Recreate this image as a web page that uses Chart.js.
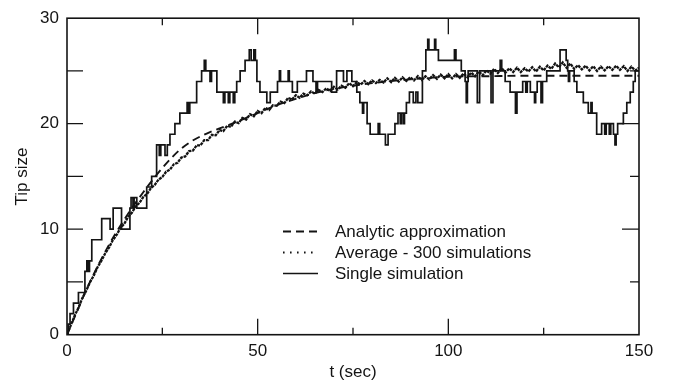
<!DOCTYPE html>
<html>
<head>
<meta charset="utf-8">
<script src="https://cdn.jsdelivr.net/npm/chart.js@4.4.1/dist/chart.umd.min.js"></script>
<style>
  html, body { margin: 0; padding: 0; background: #ffffff; }
  #wrap { width: 677px; height: 388px; }
</style>
</head>
<body>
<div id="wrap"><canvas id="c" width="677" height="388"></canvas></div>
<script>
// ---------- data ----------
const seriesLabels = ["Analytic approximation", "Average - 300 simulations", "Single simulation"];
const xTickLabels = [0, 50, 100, 150];
const yTickLabels = [0, 10, 20, 30];

// Analytic approximation (smooth)
const analyticT = [0, 2.5, 5, 7.5, 10, 12.5, 15, 17.5, 20, 22.5, 25, 27.5, 30, 32.5, 35, 37.5, 40, 45, 50, 55, 60, 65, 70, 75, 80, 90, 100, 110, 120, 130, 140, 150];
const analyticV = [0, 2.1, 4.2, 6.1, 7.85, 9.45, 10.9, 12.25, 13.5, 14.7, 15.8, 16.8, 17.65, 18.3, 18.8, 19.2, 19.55, 20.25, 21.0, 21.75, 22.35, 22.9, 23.3, 23.6, 23.85, 24.2, 24.45, 24.5, 24.55, 24.55, 24.55, 24.55];

// Average of 300 simulations, one value per second, t = 0..150
const averageV = [
  0, 0.9, 1.8, 2.55, 3.45, 4.15, 4.95, 5.6, 6.4, 7.0,
  7.7, 8.25, 8.95, 9.45, 10.1, 10.5, 11.15, 11.55, 12.15, 12.5,
  13.05, 13.35, 13.9, 14.2, 14.7, 14.95, 15.45, 15.65, 16.15, 16.3,
  16.8, 16.9, 17.4, 17.45, 17.95, 17.95, 18.45, 18.45, 18.95, 18.9,
  19.4, 19.3, 19.8, 19.7, 20.2, 20.05, 20.55, 20.4, 20.9, 20.7,
  21.2, 21.0, 21.5, 21.3, 21.75, 21.7, 22.1, 21.95, 22.45, 22.3,
  22.7, 22.45, 22.85, 22.7, 23.05, 22.85, 23.2, 23.0, 23.35, 23.1,
  23.5, 23.25, 23.6, 23.4, 23.85, 23.55, 23.95, 23.7, 24.05, 23.75,
  24.1, 23.85, 24.15, 23.9, 24.3, 23.95, 24.35, 24.0, 24.4, 24.05,
  24.4, 24.1, 24.5, 24.15, 24.5, 24.2, 24.6, 24.25, 24.65, 24.3,
  24.7, 24.3, 24.7, 24.35, 24.75, 24.4, 24.85, 24.5, 24.95, 24.6,
  25.05, 24.75, 25.2, 24.8, 25.25, 24.85, 25.25, 24.9, 25.3, 24.9,
  25.25, 24.95, 25.35, 24.95, 25.4, 25.05, 25.5, 25.2, 25.7, 25.35,
  25.8, 25.3, 25.7, 25.2, 25.55, 25.15, 25.5, 25.05, 25.45, 25.0,
  25.4, 25.05, 25.45, 25.1, 25.5, 25.1, 25.45, 25.0, 25.4, 25.05,
  25.3
];

// Single simulation: time at which the tip size changes, and the new size
const singleT = [
  0, 0.3, 0.8, 1.7, 3.0, 4.7, 5.2, 5.5, 5.9, 6.5,
  9.1, 11.3, 12.1, 14.3, 16.5, 16.8, 17.3, 17.6, 18.3, 20.9,
  22.2, 23.5, 24.2, 24.6, 25.7, 26.3, 27.0, 28.3, 29.6, 31.5,
  31.8, 32.2, 34.0, 35.3, 36.0, 36.4, 37.5, 37.9, 39.3, 41.0,
  41.4, 42.3, 42.7, 43.6, 44.0, 44.5, 45.4, 46.7, 47.8, 48.3,
  49.0, 49.4, 49.8, 50.6, 52.4, 53.3, 55.2, 55.7, 56.0, 58.0,
  58.3, 59.1, 60.4, 62.8, 64.5, 65.3, 65.7, 69.4, 70.7, 72.5,
  73.4, 74.7, 76.0, 76.8, 77.5, 77.8, 78.7, 79.5, 81.6, 82.0,
  83.5, 84.2, 86.0, 86.8, 87.4, 87.7, 88.2, 88.5, 89.0, 89.8,
  90.8, 91.5, 92.0, 93.2, 94.1, 94.6, 94.9, 96.4, 96.7, 97.4,
  101.6, 102.0, 103.4, 104.4, 104.7, 105.0, 105.2, 107.6, 108.2, 111.2,
  111.7, 113.6, 114.0, 114.9, 116.2, 117.6, 118.0, 119.5, 120.3, 120.7,
  121.5, 122.6, 122.9, 123.3, 124.3, 124.7, 125.8, 129.3, 130.9, 131.3,
  131.5, 131.8, 133.0, 133.7, 135.4, 136.7, 137.4, 137.7, 138.9, 140.2,
  141.0, 141.4, 142.2, 142.6, 143.3, 143.7, 144.0, 144.4, 145.9, 146.8,
  147.7, 148.5, 149.0, 150
];
const singleV = [
  0, 1, 2, 3, 4, 6, 7, 6, 7, 9,
  11, 10, 12, 10, 12, 13, 12, 13, 12, 14,
  15, 18, 17, 18, 17, 18, 19, 20, 21, 22,
  21, 22, 24, 25, 26, 25, 24, 25, 23, 22,
  23, 22, 23, 22, 23, 24, 25, 26, 27, 26,
  27, 26, 24, 23, 22, 23, 24, 25, 24, 25,
  24, 23, 24, 25, 24, 23, 24, 23, 25, 24,
  25, 24, 23, 22, 21, 22, 20, 19, 20, 19,
  18, 19, 20, 21, 20, 21, 20, 21, 22, 23,
  22, 23, 22, 25, 27, 28, 27, 28, 27, 26,
  27, 26, 25, 24, 22, 24, 25, 22, 25, 22,
  25, 26, 25, 24, 23, 21, 23, 24, 23, 24,
  23, 22, 23, 24, 22, 24, 25, 27, 26, 25,
  24, 25, 24, 23, 22, 21, 22, 21, 19, 20,
  19, 20, 19, 20, 19, 18, 19, 20, 21, 22,
  23, 24, 25, 25
];

// ---------- chart ----------
const FONT = "'Liberation Sans', Arial, Helvetica, sans-serif";
const INK = '#141414';

const toPts = (xs, ys) => xs.map((x, i) => ({ x: x, y: ys[i] }));
const averageT = averageV.map((_, i) => i);

const legendStyle = [
  { dash: [8, 5], width: 1.9 },
  { dash: [1.6, 5.4], width: 1.8 },
  { dash: [], width: 1.7 }
];

const frameAndTicks = {
  id: 'frameAndTicks',
  afterDatasetsDraw(chart) {
    const ctx = chart.ctx, a = chart.chartArea;
    const xs = chart.scales.x, ys = chart.scales.y;
    ctx.save();
    ctx.strokeStyle = INK;
    ctx.lineWidth = 1.3;
    ctx.setLineDash([]);
    ctx.beginPath();
    for (let v = 5; v < 30; v += 5) {
      const py = ys.getPixelForValue(v);
      const major = v % 10 === 0;
      ctx.moveTo(a.left, py); ctx.lineTo(a.left + 16, py);
      ctx.moveTo(a.right, py); ctx.lineTo(a.right - (major ? 17 : 9), py);
    }
    for (let t = 25; t < 150; t += 25) {
      const px = xs.getPixelForValue(t);
      const major = t % 50 === 0;
      const len = major ? 16 : 7;
      ctx.moveTo(px, a.bottom); ctx.lineTo(px, a.bottom - len);
      ctx.moveTo(px, a.top); ctx.lineTo(px, a.top + len);
    }
    ctx.stroke();
    ctx.lineWidth = 1.6;
    ctx.strokeRect(a.left, a.top, a.right - a.left, a.bottom - a.top);
    ctx.restore();
  }
};

const insideLegend = {
  id: 'insideLegend',
  afterDatasetsDraw(chart) {
    const ctx = chart.ctx;
    const rows = [231.5, 252.5, 273.5];
    ctx.save();
    ctx.font = '17px ' + FONT;
    ctx.textBaseline = 'middle';
    ctx.textAlign = 'left';
    chart.data.datasets.forEach((ds, i) => {
      const y = rows[i];
      ctx.strokeStyle = INK;
      ctx.lineWidth = legendStyle[i].width;
      ctx.setLineDash(legendStyle[i].dash);
      ctx.beginPath();
      ctx.moveTo(283, y); ctx.lineTo(318, y);
      ctx.stroke();
      ctx.setLineDash([]);
      ctx.fillStyle = INK;
      ctx.fillText(ds.label, 335, y + 0.5);
    });
    ctx.restore();
  }
};

new Chart(document.getElementById('c'), {
  type: 'line',
  data: {
    datasets: [
      {
        label: seriesLabels[0],
        data: toPts(analyticT, analyticV),
        borderColor: INK, borderWidth: 1.9, borderDash: [8, 5],
        pointRadius: 0, cubicInterpolationMode: 'monotone', fill: false
      },
      {
        label: seriesLabels[1],
        data: toPts(averageT, averageV),
        borderColor: INK, borderWidth: 2.3, borderDash: [3, 0.8],
        pointRadius: 0, tension: 0, fill: false
      },
      {
        label: seriesLabels[2],
        data: toPts(singleT, singleV),
        borderColor: INK, borderWidth: 1.7, stepped: 'before',
        pointRadius: 0, fill: false
      }
    ]
  },
  options: {
    responsive: false,
    devicePixelRatio: 1,
    animation: false,
    parsing: true,
    layout: { padding: { top: 8, right: 38, left: 0, bottom: 0 } },
    plugins: { legend: { display: false }, tooltip: { enabled: false } },
    scales: {
      x: {
        type: 'linear', min: 0, max: 150,
        afterFit(s) { s.height = 53.3; },
        afterBuildTicks(s) { s.ticks = xTickLabels.map(v => ({ value: v })); },
        grid: { display: false, drawTicks: false },
        border: { display: false },
        ticks: { font: { size: 17, family: FONT }, color: INK, padding: 6, maxRotation: 0 },
        title: { display: true, text: 't (sec)', font: { size: 17, family: FONT }, color: INK, padding: { top: 0, bottom: 5 } }
      },
      y: {
        type: 'linear', min: 0, max: 30,
        afterFit(s) { s.width = 67; },
        afterBuildTicks(s) { s.ticks = yTickLabels.map(v => ({ value: v })); },
        grid: { display: false, drawTicks: false },
        border: { display: false },
        ticks: { font: { size: 17, family: FONT }, color: INK, padding: 8 },
        title: { display: true, text: 'Tip size', font: { size: 17, family: FONT }, color: INK, padding: { top: 12, bottom: 0 } }
      }
    }
  },
  plugins: [frameAndTicks, insideLegend]
});
</script>
</body>
</html>
